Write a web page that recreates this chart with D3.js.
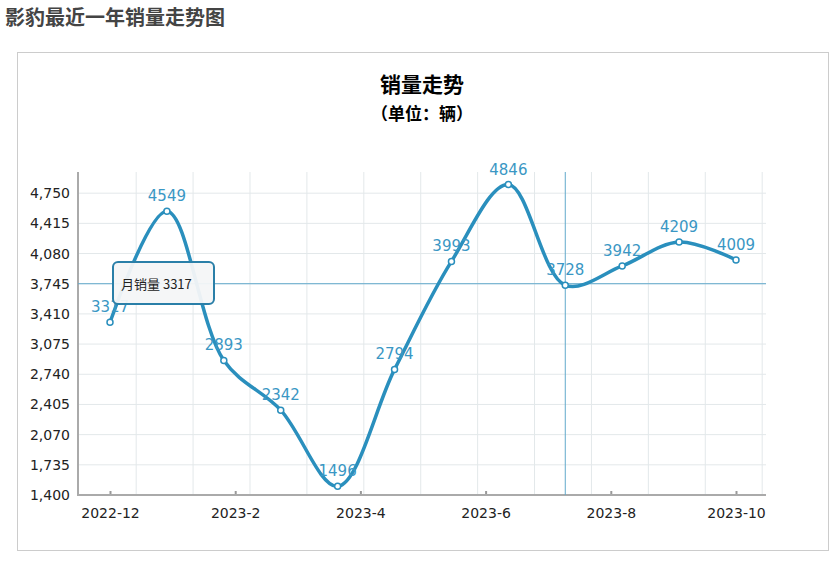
<!DOCTYPE html>
<html><head><meta charset="utf-8">
<script src="https://cdn.jsdelivr.net/npm/d3@7"></script>
<style>
body{margin:0;background:#fff;font-family:"Noto Sans CJK SC","DejaVu Sans",sans-serif;}
</style></head>
<body><svg id="c" width="836" height="561"></svg>
<script>
// monthly sales, Dec 2022 .. Oct 2023 axis span
var months = ["2022-11","2022-12","2023-1","2023-2","2023-3","2023-4","2023-5","2023-6","2023-7","2023-8","2023-9","2023-10"];
var sales = [3317, 4549, 2893, 2342, 1496, 2794, 3993, 4846, 3728, 3942, 4209, 4009];
var yTicks = [1400, 1735, 2070, 2405, 2740, 3075, 3410, 3745, 4080, 4415, 4750];
var xTickLabels = ["2022-12", "2023-2", "2023-4", "2023-6", "2023-8", "2023-10"];

var svg = d3.select('#c');
svg.append('text').attr('x', 5).attr('y', 25).attr('fill', '#444')
  .style('font-size', '20px').style('font-weight', 'bold').text('影豹最近一年销量走势图');
svg.append('rect').attr('x', 17.5).attr('y', 52.5).attr('width', 811).attr('height', 498)
  .attr('fill', 'none').attr('stroke', '#ccc');
svg.append('text').attr('x', 422).attr('y', 92).attr('text-anchor', 'middle')
  .style('font-size', '21px').style('font-weight', 'bold').text('销量走势');
svg.append('text').attr('x', 422).attr('y', 120).attr('text-anchor', 'middle')
  .style('font-size', '17px').style('font-weight', 'bold').text('（单位：辆）');

var pLeft = 78, pRight = 766, pTop = 172, pBottom = 495;
var x = d3.scaleLinear().domain([0, sales.length - 1]).range([110, 736]);
var y = d3.scaleLinear().domain([1400, 4985]).range([pBottom, pTop]);
var xt = d3.scalePoint().domain(xTickLabels).range([110, 736]);

var g = svg.append('g');
// grid
g.selectAll('line.h').data(yTicks).enter().append('line')
  .attr('x1', pLeft).attr('x2', pRight).attr('y1', function(d){return y(d);}).attr('y2', function(d){return y(d);})
  .attr('stroke', '#e3e8ea');
g.selectAll('line.v').data(d3.range(12)).enter().append('line')
  .attr('x1', function(d){return x(d + 0.46);}).attr('x2', function(d){return x(d + 0.46);})
  .attr('y1', pTop).attr('y2', pBottom).attr('stroke', '#e3e8ea');

// axes
var ya = g.append('g').attr('transform', 'translate(' + pLeft + ',0)')
  .call(d3.axisLeft(y).tickValues(yTicks).tickSize(0).tickPadding(8));
var xa = g.append('g').attr('transform', 'translate(0,' + pBottom + ')')
  .call(d3.axisBottom(xt).tickSize(5).tickPadding(8));
[ya, xa].forEach(function(a){
  a.select('.domain').remove();
  a.selectAll('text').style('font-size', '14px').attr('fill', '#222').style('font-family', '"DejaVu Sans",sans-serif');
  a.selectAll('line').attr('stroke', '#999').attr('stroke-width', 2);
});
xa.selectAll('line').attr('transform', 'translate(0,-4)');
g.append('line').attr('x1', pLeft).attr('x2', pLeft).attr('y1', pTop).attr('y2', pBottom + 1).attr('stroke', '#aaa').attr('stroke-width', 2);
g.append('line').attr('x1', pLeft - 1).attr('x2', pRight).attr('y1', pBottom).attr('y2', pBottom).attr('stroke', '#aaa').attr('stroke-width', 2);

// crosshair
g.append('line').attr('x1', x(8)).attr('x2', x(8)).attr('y1', pTop).attr('y2', pBottom).attr('stroke', '#62a9cc');
g.append('line').attr('x1', pLeft).attr('x2', pRight).attr('y1', y(3745)).attr('y2', y(3745)).attr('stroke', '#62a9cc');

// line
var line = d3.line().x(function(d, i){return x(i);}).y(function(d){return y(d);}).curve(d3.curveCatmullRom.alpha(0.5));
g.append('path').datum(sales).attr('d', line).attr('fill', 'none').attr('stroke', '#2a8fbd').attr('stroke-width', 3.5);
g.selectAll('circle.p').data(sales).enter().append('circle')
  .attr('cx', function(d, i){return x(i);}).attr('cy', function(d){return y(d);}).attr('r', 3)
  .attr('fill', '#fff').attr('stroke', '#2a8fbd').attr('stroke-width', 1.5);
g.selectAll('text.l').data(sales).enter().append('text')
  .attr('x', function(d, i){return x(i);}).attr('y', function(d){return y(d) - 10;})
  .attr('text-anchor', 'middle').attr('fill', '#3a97c4').style('font-size', '15px')
  .style('font-family', '"DejaVu Sans",sans-serif').text(function(d){return d;});

// tooltip
var tip = g.append('g').attr('transform', 'translate(113,262)');
tip.append('rect').attr('width', 101).attr('height', 42).attr('rx', 5)
  .attr('fill', '#f4f6f7').attr('fill-opacity', 0.95).attr('stroke', '#2a7fa8').attr('stroke-width', 2);
tip.append('text').attr('x', 8).attr('y', 27).style('font-size', '13px').attr('fill', '#222').text('月销量 ' + sales[0]);
</script></body></html>
